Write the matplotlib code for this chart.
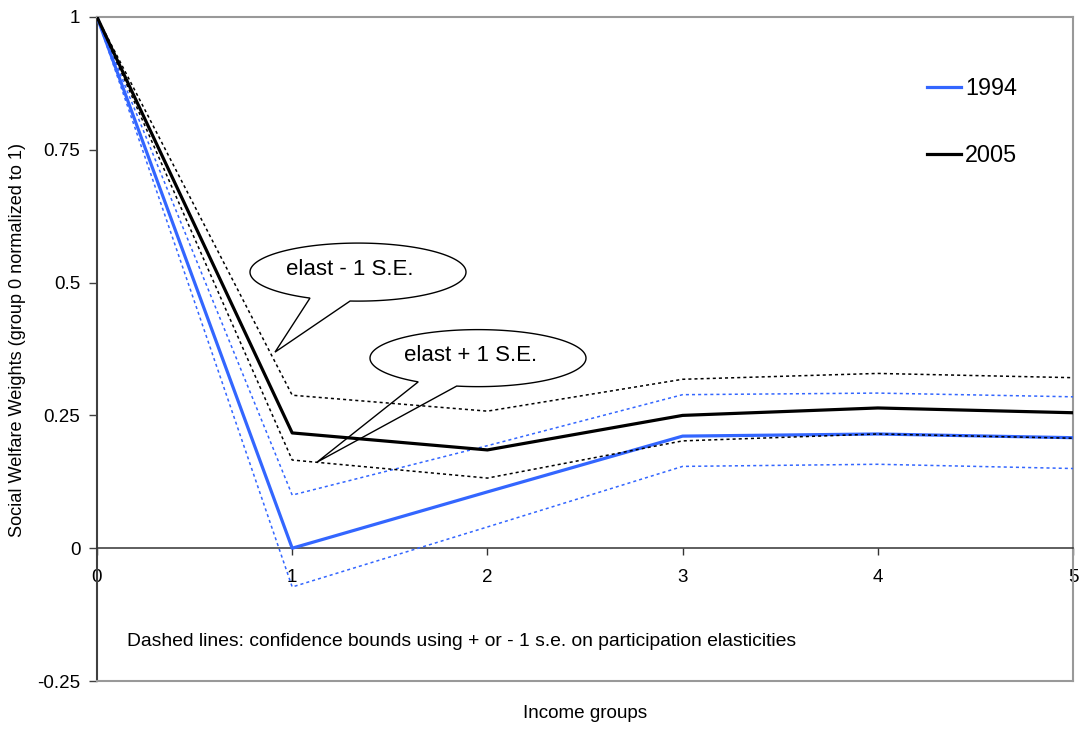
import matplotlib
matplotlib.use('Agg')
import matplotlib.pyplot as plt
import numpy as np
from matplotlib.path import Path
from matplotlib.patches import PathPatch

plt.rcParams['font.family'] = ['Liberation Sans', 'DejaVu Sans']

# ---- data ----
groups = [0, 1, 2, 3, 4, 5]
w1994 = [1.0, 0.0, 0.106, 0.211, 0.215, 0.208]
w1994_hi = [1.0, 0.100, 0.193, 0.289, 0.292, 0.285]
w1994_lo = [1.0, -0.073, 0.040, 0.154, 0.158, 0.150]
w2005 = [1.0, 0.217, 0.185, 0.250, 0.264, 0.255]
w2005_hi = [1.0, 0.288, 0.258, 0.318, 0.329, 0.321]
w2005_lo = [1.0, 0.166, 0.132, 0.202, 0.215, 0.207]
ytick_vals = [-0.25, 0, 0.25, 0.5, 0.75, 1]
ytick_labels = ['-0.25', '0', '0.25', '0.5', '0.75', '1']
series_labels = ['1994', '2005']

BLUE = '#3366FF'
W, H = 1079, 729
fig = plt.figure(figsize=(W / 100, H / 100), dpi=100)
L, R, T, B = 97, 1073, 17, 681
ax = fig.add_axes([L / W, 1 - B / H, (R - L) / W, (B - T) / H])
ax.set_xlim(0, 5)
ax.set_ylim(-0.25, 1)

dot = (0, (2.0, 2.0))
ax.plot(groups, w1994_hi, color=BLUE, lw=1.1, ls=dot, zorder=3)
ax.plot(groups, w1994_lo, color=BLUE, lw=1.1, ls=dot, zorder=3)
l94, = ax.plot(groups, w1994, color=BLUE, lw=2.3, zorder=4, label=series_labels[0])
l05, = ax.plot(groups, w2005, color='black', lw=2.3, zorder=4, label=series_labels[1])
ax.plot(groups, w2005_hi, color='black', lw=1.1, ls=dot, zorder=5)
ax.plot(groups, w2005_lo, color='black', lw=1.1, ls=dot, zorder=5)

# spines
ax.spines['bottom'].set_position(('data', 0))
ax.spines['bottom'].set_color('#333333')
ax.spines['bottom'].set_linewidth(1.1)
ax.spines['left'].set_color('#404040')
ax.spines['left'].set_linewidth(1.5)
for s in ('top', 'right'):
    ax.spines[s].set_color('#999999')
    ax.spines[s].set_linewidth(1.5)
ax.plot([0, 1], [0, 0], transform=ax.transAxes, color='#999999', lw=1.5, clip_on=False, zorder=6)

ax.set_xticks(groups)
ax.set_xticklabels([str(g) for g in groups])
ax.set_yticks(ytick_vals)
ax.set_yticklabels(ytick_labels)
ax.tick_params(axis='x', direction='out', length=5, width=1, color='#333333', pad=10, labelsize=13.5)
ax.tick_params(axis='y', direction='out', length=6, width=1, color='#404040', pad=6, labelsize=13.5)

# legend
ax.legend(handles=[l94, l05], loc='upper left', bbox_to_anchor=(927 / W, 1 - 77 / H),
          bbox_transform=fig.transFigure, frameon=False, fontsize=16.8,
          handlelength=1.46, handletextpad=0.17, labelspacing=1.9,
          borderpad=0, borderaxespad=0)

# callouts (pixel geometry -> data coords)
def px2d(px, py):
    return ((px - L) / ((R - L) / 5.0), (548 - py) / 531.0)

def callout(cx, cy, a, b, t_start, t_end, tip, text, tx, ty):
    ts = np.radians(np.linspace(t_start, t_end + 360, 200))
    pts = [px2d(cx + a * np.cos(t), cy + b * np.sin(t)) for t in ts]
    pts.append(px2d(*tip))
    pts.append(pts[0])
    codes = [Path.MOVETO] + [Path.LINETO] * (len(pts) - 2) + [Path.CLOSEPOLY]
    ax.add_patch(PathPatch(Path(pts, codes), facecolor='none', edgecolor='black', lw=1.0, zorder=7))
    x, y = px2d(tx, ty)
    ax.text(x, y, text, ha='center', va='center', fontsize=16, zorder=8)

callout(358, 272, 108, 29, 116.4, 94.2, (275, 352), 'elast - 1 S.E.', 350, 269)
callout(478, 358, 108, 28.5, 123.6, 101.4, (317, 462), 'elast + 1 S.E.', 471, 355)

nx, ny = px2d(127, 641)
ax.text(nx, ny, 'Dashed lines: confidence bounds using + or - 1 s.e. on participation elasticities',
        ha='left', va='center', fontsize=13.9)

fig.text(585 / W, 1 - 713 / H, 'Income groups', ha='center', va='center', fontsize=13.6)
fig.text(18 / W, 1 - 340 / H, 'Social Welfare Weights (group 0 normalized to 1)',
         ha='center', va='center', rotation=90, fontsize=13.1)

fig.savefig('out.png', dpi=100)
